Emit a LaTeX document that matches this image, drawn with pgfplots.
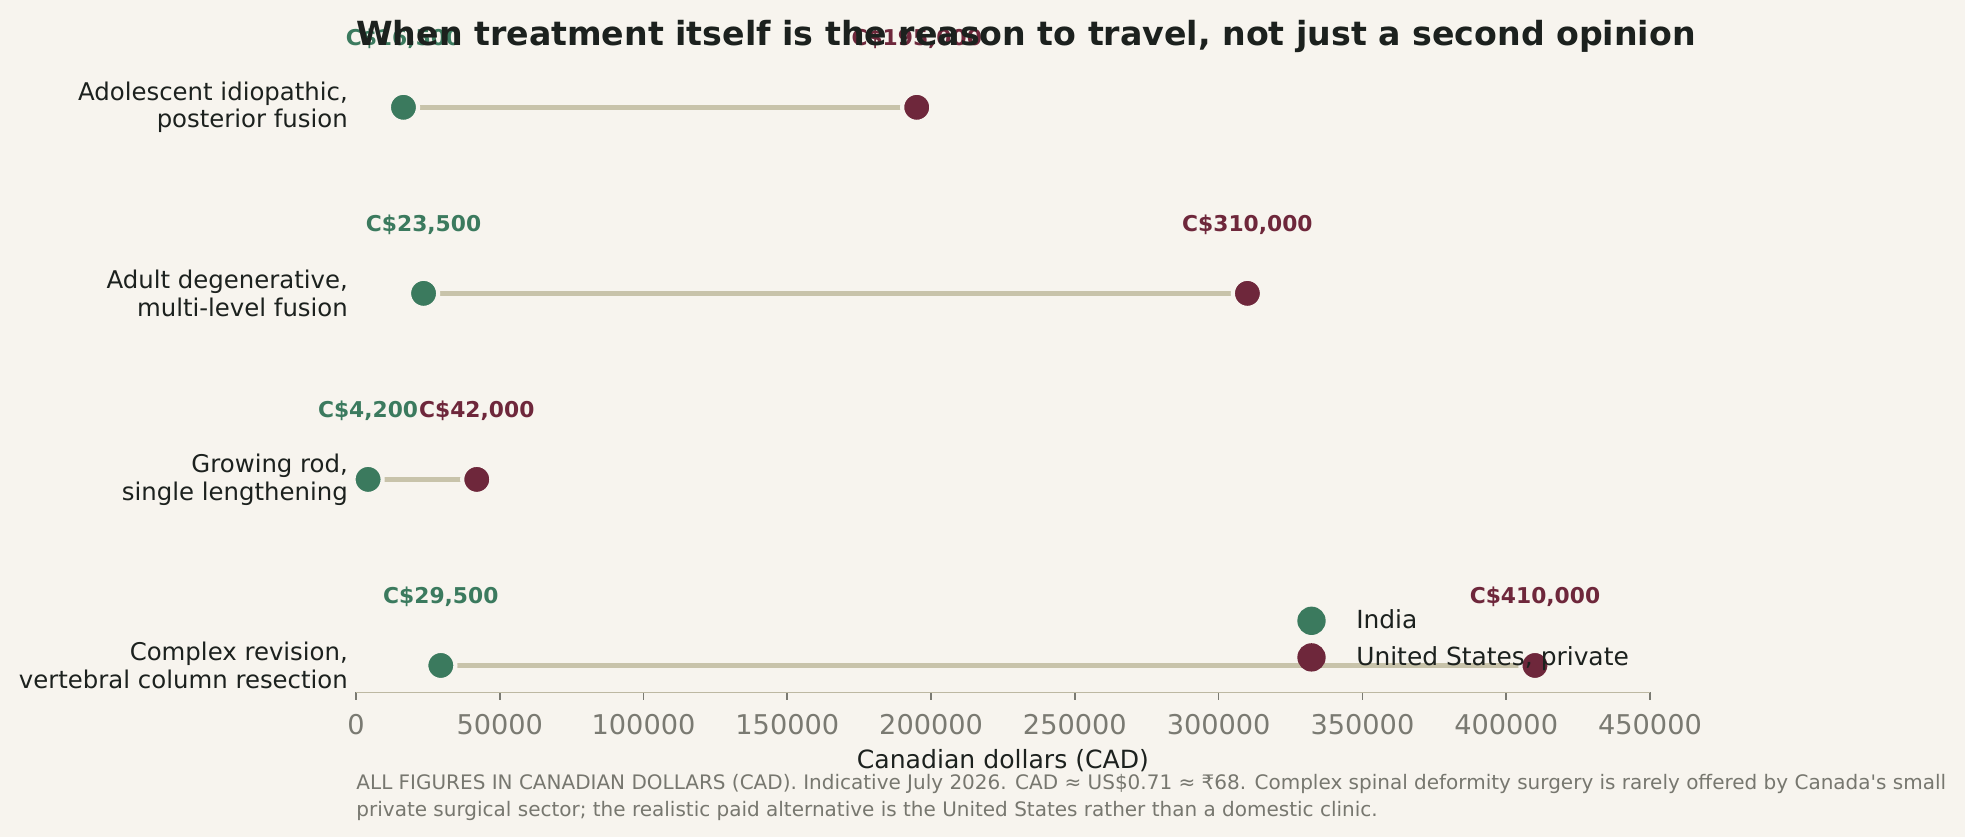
\documentclass[border=0pt]{standalone}
\usepackage{pgfplots}
\pgfplotsset{compat=1.18}
\usepackage{fontspec}
\setmainfont{DejaVu Sans}
\definecolor{bg}{HTML}{F7F4EE}
\definecolor{ind}{HTML}{3B7A5E}
\definecolor{usa}{HTML}{6E273B}
\definecolor{conn}{HTML}{C8C3AA}
\definecolor{spine}{HTML}{BDB8A2}
\definecolor{tickgrey}{HTML}{7A7A72}
\definecolor{txt}{HTML}{1C211E}
\definecolor{note}{HTML}{77776F}
\begin{document}
\begin{tikzpicture}[x=1bp,y=1bp]
\fill[bg] (0,0) rectangle (943.2,401.76);
\begin{axis}[
  at={(170.88bp,69.4bp)}, anchor=south west,
  scale only axis, width=621.1bp, height=293.8bp,
  xmin=0, xmax=450000, ymin=-0.145, ymax=3.145,
  clip=false,
  axis x line*=bottom, axis y line*=left,
  x axis line style={-, spine, line width=0.8bp},
  y axis line style={draw=none},
  scaled x ticks=false,
  /pgf/number format/assume math mode=true,
  /pgf/number format/fixed,
  /pgf/number format/precision=0,
  /pgf/number format/1000 sep={},
  xtick={0,50000,...,450000},
  xtick style={tickgrey, line width=0.8bp},
  tick align=outside,
  major tick length=3.4bp,
  xticklabel style={font=\fontsize{13.1}{15}\selectfont, text=tickgrey, yshift=-3.6bp},
  ytick={0,1,2,3},
  ytick style={draw=none},
  yticklabels={{Complex revision,\\vertebral column resection},{Growing rod,\\single lengthening},{Adult degenerative,\\multi-level fusion},{Adolescent idiopathic,\\posterior fusion}},
  yticklabel style={align=right, font=\fontsize{11.75}{13.4}\selectfont, text=txt, xshift=3bp},
  legend style={at={(0.992,0.025)}, anchor=south east, draw=none, fill=none,
    font=\fontsize{12}{13.5}\selectfont, text=txt, row sep=3bp},
  legend cell align=left,
]
\addplot[conn, line width=2.4bp, forget plot] coordinates {(16500,3) (195000,3)};
\addplot[conn, line width=2.4bp, forget plot] coordinates {(23500,2) (310000,2)};
\addplot[conn, line width=2.4bp, forget plot] coordinates {(4200,1) (42000,1)};
\addplot[conn, line width=2.4bp, forget plot] coordinates {(29500,0) (410000,0)};
\addplot[only marks, mark=*, mark size=7bp,
  mark options={fill=ind, draw=bg, line width=2bp},
  legend image code/.code={\fill[ind, draw=none] (0,0) circle (6.8bp); \path[draw=none, fill=none] (0,0) -- (19.5bp,0);},
  point meta=x,
  nodes near coords={C\textdollar\pgfmathprintnumber[fixed, precision=0, 1000 sep={,}]{\pgfplotspointmeta}},
  every node near coord/.append style={font=\bfseries\fontsize{10.5}{12}\selectfont, text=ind, anchor=center, yshift=33bp}]
  coordinates {(16500,3) (23500,2) (4200,1) (29500,0)};
\addlegendentry{India}
\addplot[only marks, mark=*, mark size=7bp,
  mark options={fill=usa, draw=bg, line width=2bp},
  legend image code/.code={\fill[usa, draw=none] (0,0) circle (6.8bp); \path[draw=none, fill=none] (0,0) -- (19.5bp,0);},
  point meta=x,
  nodes near coords={C\textdollar\pgfmathprintnumber[fixed, precision=0, 1000 sep={,}]{\pgfplotspointmeta}},
  every node near coord/.append style={font=\bfseries\fontsize{10.5}{12}\selectfont, text=usa, anchor=center, yshift=33bp}]
  coordinates {(195000,3) (310000,2) (42000,1) (410000,0)};
\addlegendentry{United States, private}
\end{axis}
\node[font=\bfseries\fontsize{16}{19}\selectfont, text=txt] at (492.5,384.2) {When treatment itself is the reason to travel, not just a second opinion};
\node[font=\fontsize{12.1}{14}\selectfont, text=txt] at (481.4,36.6) {Canadian dollars (CAD)};
\node[anchor=base west, inner sep=0, font=\fontsize{9.63}{12}\selectfont, text=note] at (170.9,22.7) {ALL FIGURES IN CANADIAN DOLLARS (CAD). Indicative July 2026. CAD ≈ US\textdollar 0.71 ≈ ₹68. Complex spinal deformity surgery is rarely offered by Canada\textquotesingle s small};
\node[anchor=base west, inner sep=0, font=\fontsize{9.63}{12}\selectfont, text=note] at (170.9,9.7) {private surgical sector; the realistic paid alternative is the United States rather than a domestic clinic.};
\pgfresetboundingbox
\path (0,0) rectangle (943.2,401.76);
\end{tikzpicture}
\end{document}
